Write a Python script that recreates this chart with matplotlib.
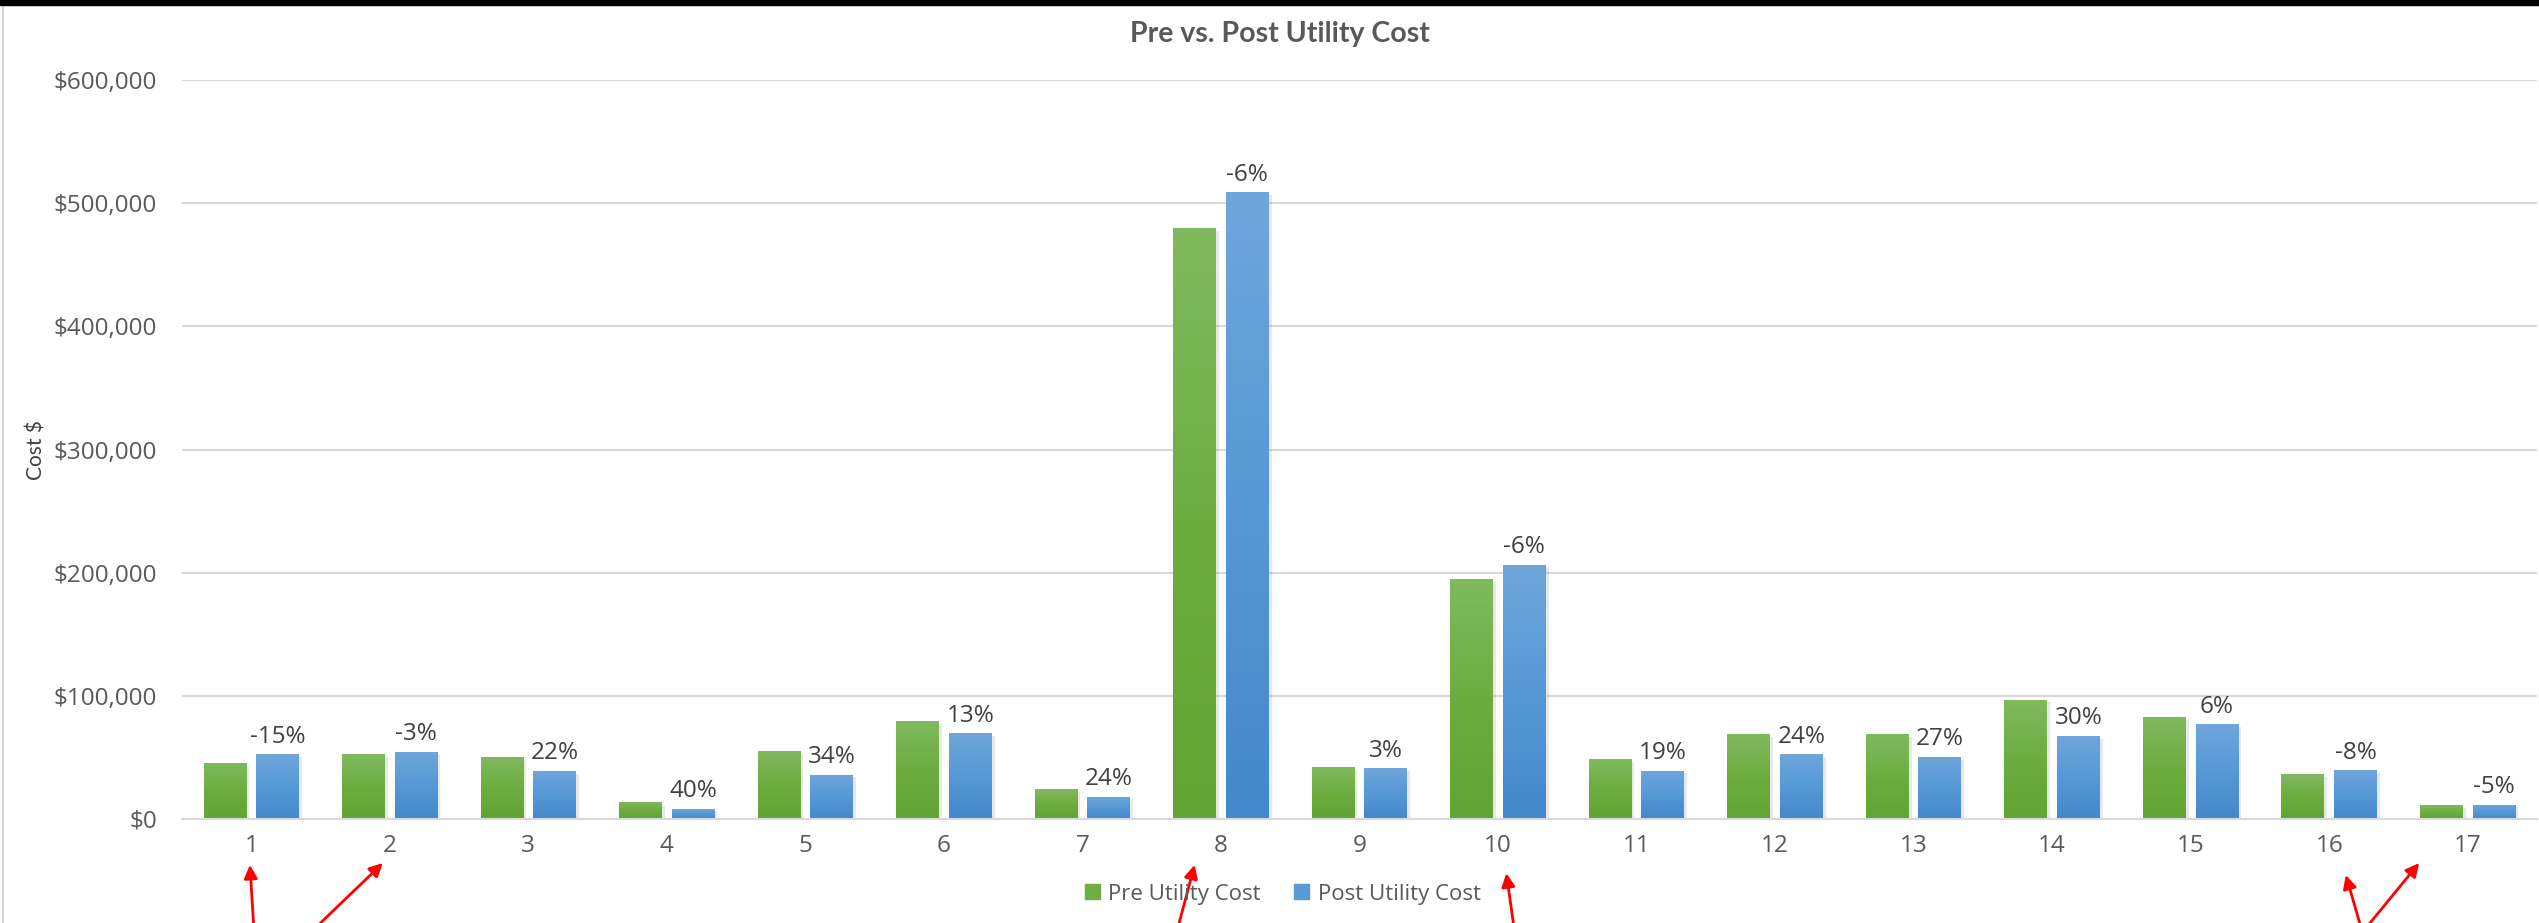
import numpy as np
import matplotlib
matplotlib.use('Agg')
import matplotlib.pyplot as plt
from matplotlib.colors import LinearSegmentedColormap
from matplotlib.patches import Patch
from matplotlib.lines import Line2D
import matplotlib.patheffects as pe

# data
sites = [str(i) for i in range(1, 18)]
pre_cost = [45500, 52700, 50000, 14000, 55000, 79500, 24000, 480000, 42200,
            195000, 48600, 69000, 69000, 97000, 82400, 36500, 11000]
post_cost = [52500, 54500, 39000, 8500, 36000, 69500, 18200, 509000, 41100,
             206500, 39200, 52500, 50500, 67600, 77000, 39500, 11600]
savings = ['-15%', '-3%', '22%', '40%', '34%', '13%', '24%', '-6%', '3%',
           '-6%', '19%', '24%', '27%', '30%', '6%', '-8%', '-5%']
y_ticks = [0, 100000, 200000, 300000, 400000, 500000, 600000]

# red arrows drawn on the screenshot (tail x, head x, head y in fig fraction)
arrows = [(1.02, 0.99, 0.063), (1.43, 1.95, 0.065), (7.68, 7.81, 0.063),
          (10.12, 10.06, 0.054), (16.24, 16.12, 0.052), (16.24, 16.65, 0.065)]

plt.rcParams['font.family'] = ['Open Sans', 'DejaVu Sans']

fig = plt.figure(figsize=(25.39, 9.23), dpi=100)
ax = fig.add_axes([0.0717, 0.1127, 0.9275, 0.8006])

x = np.arange(1, len(sites) + 1)
w = 0.31
shadow = [pe.SimplePatchShadow(offset=(2, -2), alpha=0.18, shadow_rgbFace='#808080'), pe.Normal()]
b_pre = ax.bar(x - 0.19, pre_cost, w, color='#70AD47', zorder=2, path_effects=shadow)
b_post = ax.bar(x + 0.19, post_cost, w, color='#5B9BD5', zorder=2, path_effects=shadow)


def gradient(bars, top, mid, bottom):
    cmap = LinearSegmentedColormap.from_list('g', [bottom, mid, top])
    grad = np.linspace(0, 1, 256).reshape(-1, 1)
    for b in bars:
        x0, y0 = b.get_x(), b.get_y()
        im = ax.imshow(grad, cmap=cmap, origin='lower', aspect='auto', zorder=2.5,
                       extent=[x0, x0 + b.get_width(), y0, y0 + b.get_height()])
        im.set_clip_path(b)


gradient(b_pre, '#80BA5E', '#6DAD40', '#61A433')
gradient(b_post, '#6FA6DC', '#5599D6', '#4388CA')

for xi, v, s in zip(x, post_cost, savings):
    ax.annotate(s, (xi + 0.19, v), xytext=(0, 4), textcoords='offset points',
                ha='center', va='bottom', fontsize=17.5, color='#404040')

ax.set_xlim(0.5, len(sites) + 0.5)
ax.set_ylim(0, 600000)
ax.set_xticks(x)
ax.set_xticklabels(sites)
ax.set_yticks(y_ticks)
ax.set_yticklabels(['${:,.0f}'.format(v) for v in y_ticks])
ax.tick_params(length=0, labelsize=17.5, labelcolor='#595959')
ax.tick_params(axis='y', pad=18)
ax.tick_params(axis='x', pad=11)
ax.yaxis.grid(True, color='#D9D9D9', lw=1.5)
ax.set_axisbelow(True)
for sp in ['top', 'right', 'left']:
    ax.spines[sp].set_visible(False)
ax.spines['bottom'].set_color('#D9D9D9')
ax.spines['bottom'].set_linewidth(1.5)

fig.text(0.0142, 0.5125, 'Cost $', rotation=90, ha='center', va='center',
         fontsize=15, color='#404040', family=['Lato', 'DejaVu Sans'])
fig.text(0.504, 1 - 34 / 923, 'Pre vs. Post Utility Cost', ha='center', va='center',
         fontsize=20.5, weight='bold', color='#595959', family=['Lato', 'DejaVu Sans'])

handles = [Patch(color='#70AD47', label='Pre Utility Cost'),
           Patch(color='#5B9BD5', label='Post Utility Cost')]
fig.legend(handles=handles, loc='center', bbox_to_anchor=(0.5053, 0.0314), ncol=2,
           frameon=False, fontsize=16, handlelength=0.65, handleheight=0.65,
           handletextpad=0.4, columnspacing=1.5, labelcolor='#595959')

# screenshot frame: black strip on top, grey line on the left
fig.patches.append(plt.Rectangle((0, 1 - 5 / 923), 1, 5 / 923, transform=fig.transFigure,
                                 color='black', zorder=10))
fig.add_artist(Line2D([3 / 2539, 3 / 2539], [0, 1 - 5 / 923], color='#D9D9D9', lw=1.5))

for tx, hx, hy in arrows:
    ax.annotate('', xy=(hx, hy), xycoords=('data', 'figure fraction'),
                xytext=(tx, -0.01), textcoords=('data', 'figure fraction'),
                annotation_clip=False,
                arrowprops=dict(arrowstyle='-|>', color='red', lw=2, mutation_scale=20,
                                shrinkA=0, shrinkB=0))

fig.savefig('out.png', dpi=100)
